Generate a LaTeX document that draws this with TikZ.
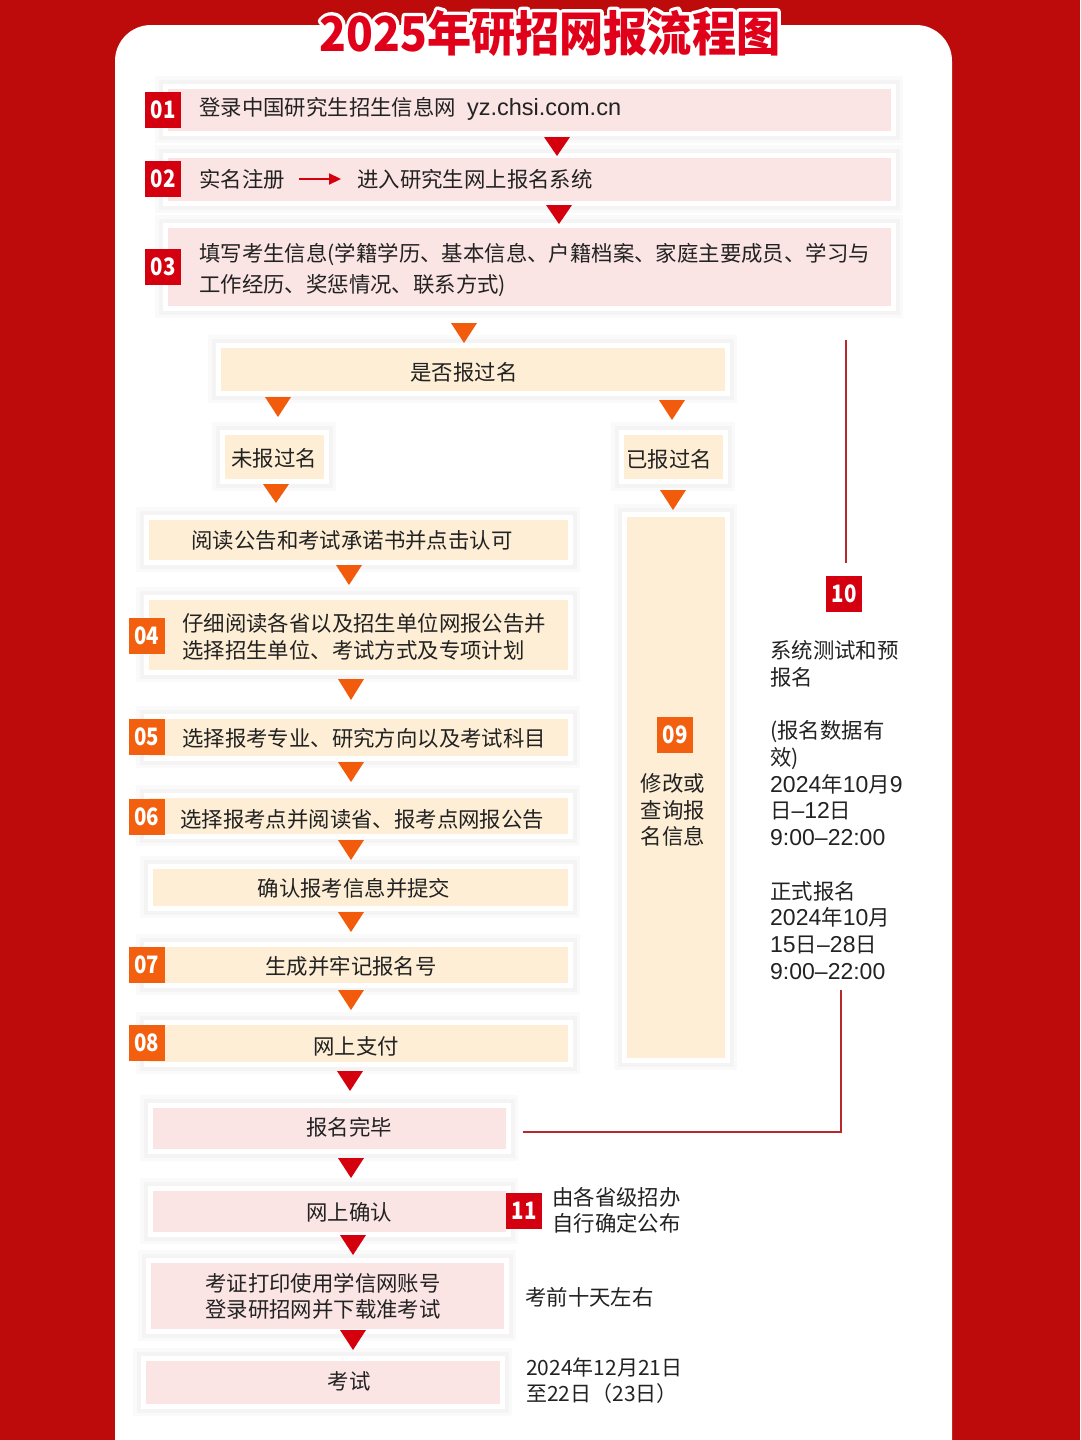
\documentclass[tikz,border=0pt]{standalone}
\usepackage{fontspec}
\setmainfont{Noto Sans CJK SC}
\newfontfamily\lib{Liberation Sans}
\usetikzlibrary{arrows.meta}
\definecolor{bgred}{HTML}{BD0A0B}
\definecolor{ttlred}{HTML}{E1001A}
\definecolor{pinkf}{HTML}{FBE4E4}
\definecolor{creamf}{HTML}{FDEED5}
\definecolor{bred}{HTML}{D5000F}
\definecolor{borange}{HTML}{F2600F}
\definecolor{aorange}{HTML}{F25A0C}
\definecolor{ared}{HTML}{D4000E}
\definecolor{lred}{HTML}{B8282C}
\definecolor{txtc}{HTML}{222222}
\newcommand\bx[6]{\node[#6, minimum width={(#4-#2)*1pt}, minimum height={(#5-#3)*1pt}] (#1) at ({(#2+#4)/2},{(#3+#5)/2}) {};}
\newcommand\tri[4]{\fill[#4] ({#1-13},#2) -- ({#1+13},#2) -- (#1,#3) -- cycle;}
\newcommand\mtext{\fontsize{21.4}{26.7}\selectfont}
\newcommand\nm[1]{{\lib\fontsize{23}{26.7}\selectfont #1}}
\newcommand\bnum[1]{\scalebox{0.85}[1]{#1}}
\newcommand\ttl{\scalebox{0.92}[1]{2025年研招网报流程图}}
\begin{document}
\begin{tikzpicture}[x=1pt,y=-1pt,
  boxbase/.style={rectangle, inner sep=0pt, draw=white, line width=5pt,
    preaction={draw=black, opacity=0.018, line width=20pt},
    preaction={draw=black, opacity=0.022, line width=13pt}},
  pinkbox/.style={boxbase, fill=pinkf},
  creambox/.style={boxbase, fill=creamf},
  txt/.style={inner sep=0pt, text=txtc, font=\mtext},
  bdg/.style={fill=#1, text=white, inner sep=0pt, minimum width=36pt, minimum height=36pt,
    font=\fontsize{24}{24}\selectfont\bfseries},
  thinred/.style={draw=lred, line width=1.4pt}]
\useasboundingbox (0,0) rectangle (1080,1440);
\fill[bgred] (0,0) rectangle (1080,1440);
\fill[white, rounded corners=36pt] (115,25) rectangle (952,1500);
% title: white outlined copy behind, red on top
\node[text=white, inner sep=0pt, font=\fontsize{48}{50}\selectfont\bfseries] (titleout) at (550,33)
  {\special{pdf:literal direct 1 1 1 RG 1 j 7 w 2 Tr}\ttl\special{pdf:literal direct 0 Tr}};
\node[text=ttlred, inner sep=0pt, font=\fontsize{48}{50}\selectfont\bfseries] (title) at (550,33) {\ttl};

% row 01
\bx{r1}{165}{86}{893}{133}{pinkbox}
\node[bdg=bred] (b1) at (163,110) {\bnum{01}};
\node[txt, anchor=west] (t1) at (199,109) {登录中国研究生招生信息网\hspace{11pt}{\lib\fontsize{23.5}{26}\selectfont yz.chsi.com.cn}};
% row 02
\bx{r2}{165}{155}{893}{203}{pinkbox}
\node[bdg=bred] (b2) at (163,179) {\bnum{02}};
\node[txt, anchor=west] (t2a) at (199,179) {实名注册};
\node[txt, anchor=west] (t2b) at (357,179) {进入研究生网上报名系统};
\draw[draw=ared, line width=2.2pt, -{Triangle[length=12pt,width=11pt]}, shorten <=14pt, shorten >=16pt] (t2a.east) -- (t2b.west);
% row 03
\bx{r3}{165}{225}{893}{308}{pinkbox}
\node[bdg=bred] (b3) at (163,267) {\bnum{03}};
\node[txt, anchor=west, align=left, font=\fontsize{21.4}{31}\selectfont] (t3) at (199,270) {填写考生信息(学籍学历、基本信息、户籍档案、家庭主要成员、学习与\\工作经历、奖惩情况、联系方式)};
% decision
\bx{q}{218}{345}{727}{393}{creambox}
\node[txt] (tq) at (464,372) {是否报过名};
\bx{no}{222}{432}{326}{481}{creambox}
\node[txt] (tno) at (274,458) {未报过名};
\bx{yes}{621}{432}{725}{481}{creambox}
\node[txt] (tyes) at (669,459) {已报过名};
% left branch
\bx{rd}{146}{517}{570}{562}{creambox}
\node[txt] (trd) at (352,540) {阅读公告和考试承诺书并点击认可};
\bx{r4}{146}{597}{570}{672}{creambox}
\node[bdg=borange] (b4) at (146.5,636) {\bnum{04}};
\node[txt, anchor=west, align=left] (t4) at (182,637) {仔细阅读各省以及招生单位网报公告并\\选择招生单位、考试方式及专项计划};
\bx{r5}{146}{716}{570}{758}{creambox}
\node[bdg=borange] (b5) at (146.5,736.5) {\bnum{05}};
\node[txt, anchor=west] (t5) at (182,738) {选择报考专业、研究方向以及考试科目};
\bx{r6}{146}{795}{570}{836}{creambox}
\node[bdg=borange] (b6) at (146.5,816.5) {\bnum{06}};
\node[txt, anchor=west] (t6) at (180,819) {选择报考点并阅读省、报考点网报公告};
\bx{cf}{150}{866}{570}{908}{creambox}
\node[txt] (tcf) at (354,888) {确认报考信息并提交};
\bx{r7}{146}{944}{570}{985}{creambox}
\node[bdg=borange] (b7) at (146.5,965) {\bnum{07}};
\node[txt] (t7) at (351,966) {生成并牢记报名号};
\bx{r8}{146}{1022}{570}{1064}{creambox}
\node[bdg=borange] (b8) at (146.5,1043) {\bnum{08}};
\node[txt] (t8) at (356,1046) {网上支付};
% bottom
\bx{dn}{150}{1105}{508}{1151}{pinkbox}
\node[txt] (tdn) at (349,1127) {报名完毕};
\bx{oc}{150}{1188}{508}{1234}{pinkbox}
\node[txt] (toc) at (349,1212) {网上确认};
\node[bdg=bred] (b11) at (524,1211) {\bnum{11}};
\node[txt, anchor=west, align=left, font=\fontsize{21.4}{26}\selectfont] (t11) at (552,1210) {由各省级招办\\自行确定公布};
\bx{pr}{148}{1260}{506}{1331}{pinkbox}
\node[txt, align=center, font=\fontsize{21.4}{26}\selectfont] (tpr) at (323,1296) {考证打印使用学信网账号\\登录研招网并下载准考试};
\node[txt, anchor=west] (tpr2) at (525,1297) {考前十天左右};
\bx{ex}{143}{1358}{502}{1406}{pinkbox}
\node[txt] (tex) at (349,1381) {考试};
\node[txt, anchor=west, align=left, font=\fontsize{21}{26}\selectfont] (tex2) at (526,1381) {2024年12月21日\\至22日（23日）};
% 09 column
\bx{c9}{624}{514}{727}{1060}{creambox}
\node[bdg=borange] (b9) at (675,735) {\bnum{09}};
\node[txt, align=center] (t9) at (673,810) {修改或\\查询报\\名信息};
% 10
\coordinate (l10a) at (846,340);
\node[bdg=bred] (b10) at (844,594) {\bnum{10}};
\draw[thinred] (l10a) -- ([yshift=13pt]l10a |- b10.north);
\node[txt, anchor=west, align=left] (t10) at (770,810) {系统测试和预\\报名\\ \\(报名数据有\\效)\\\nm{2024}年\nm{10}月\nm{9}\\日\nm{–12}日\\\nm{9:00–22:00}\\ \\正式报名\\\nm{2024}年\nm{10}月\\\nm{15}日\nm{–28}日\\\nm{9:00–22:00}};
\coordinate (l10b) at (841,990);
\coordinate (l10c) at (841,1132);
\coordinate (l10d) at (523,1132);
\draw[thinred] (l10b) -- (l10c) -- (l10d);
% triangles
\tri{557}{137}{156}{ared}
\tri{559}{205}{224}{ared}
\tri{464}{323}{343}{aorange}
\tri{278}{397}{417}{aorange}
\tri{672}{400}{420}{aorange}
\tri{276}{484}{503}{aorange}
\tri{673}{490}{510}{aorange}
\tri{349}{565}{585}{aorange}
\tri{351}{679}{700}{aorange}
\tri{351}{762}{782}{aorange}
\tri{351}{840}{860}{aorange}
\tri{351}{912}{932}{aorange}
\tri{351}{990}{1010}{aorange}
\tri{350}{1071}{1091}{ared}
\tri{351}{1158}{1178}{ared}
\tri{353}{1235}{1255}{ared}
\tri{353}{1330}{1350}{ared}
\end{tikzpicture}
\end{document}
